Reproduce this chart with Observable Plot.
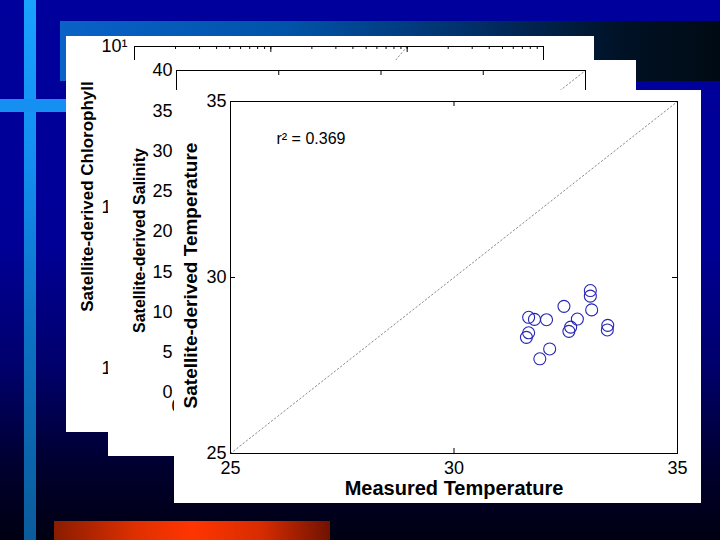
<!DOCTYPE html>
<html><head><meta charset="utf-8">
<script src="https://cdn.jsdelivr.net/npm/d3@7"></script>
<script src="https://cdn.jsdelivr.net/npm/@observablehq/plot@0.6"></script>
<style>
html,body{margin:0;padding:0;width:720px;height:540px;overflow:hidden;background:#000050;}
#slide{position:relative;width:720px;height:540px;overflow:hidden;
 background:linear-gradient(to bottom,#00009c 0%,#000097 45%,#00006c 68%,#000030 86%,#000012 100%);
 font-family:"Liberation Sans",Arial,sans-serif;}
.deco{position:absolute;}
#band{left:60px;top:21px;width:660px;height:60px;background:linear-gradient(to right,#0a62c8 0%,#0053a8 35%,#00306a 62%,#001226 85%,#000a14 100%);}
#vbar{left:24px;top:0;width:12px;height:540px;background:linear-gradient(to bottom,#1aa2ff 0%,#138ef0 30%,#0c72c4 60%,#0a5c9c 100%);}
#hbar{left:0;top:99px;width:70px;height:13px;background:#1590f2;}
#rbar{left:54px;top:521px;width:276px;height:19px;background:linear-gradient(to right,#8a1c00 0%,#e03000 30%,#ff3500 50%,#d82c00 75%,#701200 100%);}
.panel{position:absolute;background:#fff;overflow:hidden;}
#p1{left:66px;top:36px;width:528px;height:396px;}
#p2{left:108px;top:60px;width:528px;height:396px;}
#p3{left:174px;top:90px;width:527px;height:413px;}
</style></head>
<body>
<div id="slide">
  <div class="deco" id="band"></div>
  <div class="deco" id="vbar"></div>
  <div class="deco" id="hbar"></div>
  <div class="deco" id="rbar"></div>
  <div class="panel" id="p1"></div>
  <div class="panel" id="p2"></div>
  <div class="panel" id="p3"></div>
</div>
<script>
// ---- data ----
const measuredTemp  = [33.05, 33.05, 32.46, 33.08, 31.67, 31.80, 32.07, 32.76, 32.61, 32.57, 33.44, 33.43, 31.67, 31.62, 32.14, 31.92];
const satelliteTemp = [29.63, 29.47, 29.18, 29.08, 28.87, 28.81, 28.80, 28.82, 28.59, 28.47, 28.64, 28.51, 28.43, 28.30, 27.97, 27.69];
const tempTicks = [25, 30, 35];
const tempDomain = [25, 35];
const oneToOneTemp = [25, 35];
const rSquaredText = "r² = 0.369";
const tempXLabel = "Measured Temperature";
const tempYLabel = "Satellite-derived Temperature";

const salinityDomain = [0, 40];
const salinityYTicks = [0, 5, 10, 15, 20, 25, 30, 35, 40];
const salinityXTicks = [0, 10, 20, 30, 40];
const oneToOneSal = [0, 40];
const salYLabel = "Satellite-derived Salinity";

const chlXDomain = [0.1, 100];
const chlYDomain = [0.05, 10];
const chlYTicks = [0.1, 1, 10];
const chlYTickLabels = ["10⁻¹", "10⁰", "10¹"];
const oneToOneChl = [0.1, 100];
const chlYLabel = "Satellite-derived Chlorophyll";

const font = "'Liberation Sans', Arial, Helvetica, sans-serif";
const baseStyle = {background: "white", color: "black", fontFamily: font, fontSize: "18px"};
const dotted = {stroke: "#8a8a8a", strokeWidth: 1, strokeDasharray: "1.5,2.5"};

// ---- panel 1: chlorophyll (mostly hidden) ----
{
  const W = 528, H = 396, mL = 68, mT = 10, mR = 51, mB = 16;
  const ih = H - mT - mB, iw = W - mL - mR;
  const minor = d3.scaleLog().domain(chlXDomain).ticks();
  const decades = minor.filter(v => Math.abs(Math.log10(v) - Math.round(Math.log10(v))) < 1e-9);
  const p = Plot.plot({
    width: W, height: H, marginLeft: mL, marginTop: mT, marginRight: mR, marginBottom: mB,
    style: baseStyle,
    x: {type: "log", domain: chlXDomain, label: null, axis: null},
    y: {type: "log", domain: chlYDomain, label: null},
    marks: [
      Plot.line(oneToOneChl, {x: d => d, y: d => d, clip: true, ...dotted}),
      Plot.tickX(minor, {x: d => d, insetBottom: ih - 3, stroke: "black"}),
      Plot.tickX(decades, {x: d => d, insetBottom: ih - 6, stroke: "black"}),
      Plot.axisY({ticks: chlYTicks, tickFormat: d => chlYTickLabels[chlYTicks.indexOf(d)], tickSize: 0, tickPadding: 33, textAnchor: "start", fontSize: 18, label: null}),
      Plot.frame({stroke: "black", strokeWidth: 1}),
      Plot.text([chlYLabel], {text: d => d, frameAnchor: "left", rotate: -90, dx: -47, dy: -35, textAnchor: "middle", fontWeight: "bold", fontSize: 17, lineAnchor: "middle"})
    ]
  });
  document.getElementById("p1").appendChild(p);
}

// ---- panel 2: salinity (partly hidden) ----
{
  const W = 528, H = 396, mL = 68, mT = 10, mR = 51, mB = 64;
  const ih = H - mT - mB, iw = W - mL - mR;
  const p = Plot.plot({
    width: W, height: H, marginLeft: mL, marginTop: mT, marginRight: mR, marginBottom: mB,
    style: baseStyle,
    x: {domain: salinityDomain, label: null},
    y: {domain: salinityDomain, label: null},
    marks: [
      Plot.line(oneToOneSal, {x: d => d, y: d => d, ...dotted}),
      Plot.tickX(salinityXTicks, {x: d => d, insetBottom: ih - 5, stroke: "black"}),
      Plot.tickX(salinityXTicks, {x: d => d, insetTop: ih - 5, stroke: "black"}),
      Plot.tickY(salinityYTicks, {y: d => d, insetRight: iw - 5, stroke: "black"}),
      Plot.tickY(salinityYTicks, {y: d => d, insetLeft: iw - 5, stroke: "black"}),
      Plot.axisY({ticks: salinityYTicks, tickSize: 0, tickPadding: 4, fontSize: 18, label: null}),
      Plot.axisX({ticks: salinityXTicks, tickSize: 0, tickPadding: 7, fontSize: 18, label: null}),
      Plot.frame({stroke: "black", strokeWidth: 1}),
      Plot.text([salYLabel], {text: d => d, frameAnchor: "left", rotate: -90, dx: -37, dy: 9, textAnchor: "middle", fontWeight: "bold", fontSize: 16, lineAnchor: "middle"})
    ]
  });
  document.getElementById("p2").appendChild(p);
}

// ---- panel 3: temperature (front) ----
{
  const W = 527, H = 413, mL = 56, mT = 11, mR = 24, mB = 50;
  const ih = H - mT - mB, iw = W - mL - mR;
  const idx = measuredTemp.map((_, i) => i);
  const p = Plot.plot({
    width: W, height: H, marginLeft: mL, marginTop: mT, marginRight: mR, marginBottom: mB,
    style: baseStyle,
    x: {domain: tempDomain, label: null},
    y: {domain: tempDomain, label: null},
    marks: [
      Plot.line(oneToOneTemp, {x: d => d, y: d => d, ...dotted}),
      Plot.dot(idx, {x: i => measuredTemp[i], y: i => satelliteTemp[i], r: 6, stroke: "#2626b4", strokeWidth: 1.1, fill: "none"}),
      Plot.tickX(tempTicks, {x: d => d, insetBottom: ih - 5, stroke: "black"}),
      Plot.tickX(tempTicks, {x: d => d, insetTop: ih - 5, stroke: "black"}),
      Plot.tickY(tempTicks, {y: d => d, insetRight: iw - 5, stroke: "black"}),
      Plot.tickY(tempTicks, {y: d => d, insetLeft: iw - 5, stroke: "black"}),
      Plot.axisX({ticks: tempTicks, tickSize: 0, tickPadding: 8, fontSize: 18, label: null}),
      Plot.axisY({ticks: tempTicks, tickSize: 0, tickPadding: 4, fontSize: 18, label: null}),
      Plot.frame({stroke: "black", strokeWidth: 1}),
      Plot.text([rSquaredText], {text: d => d, frameAnchor: "top-left", dx: 46, dy: 37, fontSize: 16, textAnchor: "start", lineAnchor: "middle"}),
      Plot.text([tempXLabel], {text: d => d, frameAnchor: "bottom", dy: 35, textAnchor: "middle", fontWeight: "bold", fontSize: 20, lineAnchor: "middle"}),
      Plot.text([tempYLabel], {text: d => d, frameAnchor: "left", rotate: -90, dx: -40, dy: -2, textAnchor: "middle", fontWeight: "bold", fontSize: 19, lineAnchor: "middle"})
    ]
  });
  document.getElementById("p3").appendChild(p);
}
</script>
</body></html>
